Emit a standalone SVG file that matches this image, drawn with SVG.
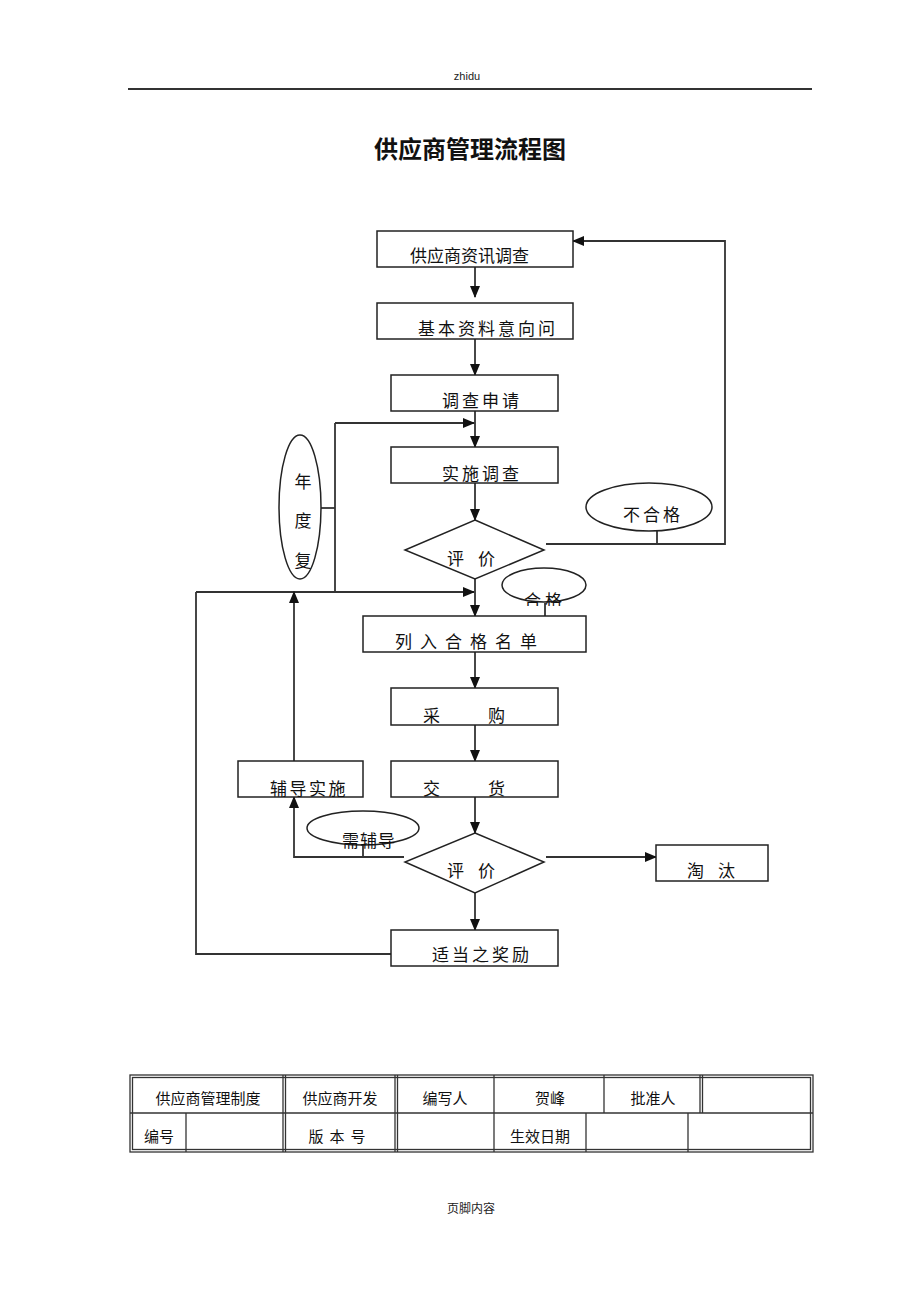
<svg xmlns="http://www.w3.org/2000/svg" width="920" height="1302" viewBox="0 0 920 1302">
<style>
.box{fill:#fff;stroke:#222;stroke-width:1.5}
.ell{fill:#fff;stroke:#222;stroke-width:1.5}
.ln{fill:none;stroke:#333;stroke-width:1.8}
.t{font-family:"Noto Sans CJK SC","Noto Sans",sans-serif;font-size:17px;fill:#111}
.tb{font-family:"Noto Sans CJK SC","Noto Sans",sans-serif;font-size:15px;fill:#111}
.cell{fill:none;stroke:#333;stroke-width:1.3}
</style>
<defs>
<marker id="ah" markerWidth="12" markerHeight="10" refX="11" refY="5" orient="auto" markerUnits="userSpaceOnUse">
<path d="M0,0 L12,5 L0,10 Z" fill="#111"/>
</marker>
<clipPath id="hegeclip"><rect x="500" y="580" width="90" height="26"/></clipPath>
</defs>
<rect width="920" height="1302" fill="#fff"/>
<g id="header">
<text x="467" y="80" text-anchor="middle" font-family="'Liberation Sans',sans-serif" font-size="11" fill="#222">zhidu</text>
<line x1="128" y1="89" x2="812" y2="89" stroke="#333" stroke-width="2"/>
<text x="470" y="158" text-anchor="middle" font-family="'Noto Sans CJK SC',sans-serif" font-size="24" font-weight="bold" fill="#111">供应商管理流程图</text>
</g>
<g id="connectors">
<line class="ln" x1="475" y1="267" x2="475" y2="297" marker-end="url(#ah)"/>
<line class="ln" x1="475" y1="339" x2="475" y2="375" marker-end="url(#ah)"/>
<line class="ln" x1="475" y1="411" x2="475" y2="447" marker-end="url(#ah)"/>
<line class="ln" x1="335" y1="423" x2="474" y2="423" marker-end="url(#ah)"/>
<line class="ln" x1="475" y1="483" x2="475" y2="520" marker-end="url(#ah)"/>
<polyline class="ln" points="546,544 725,544 725,241 573,241" marker-end="url(#ah)"/>
<line class="ln" x1="657" y1="531" x2="657" y2="544"/>
<line class="ln" x1="321" y1="508" x2="335" y2="508"/>
<line class="ln" x1="335" y1="423" x2="335" y2="592"/>
<line class="ln" x1="196" y1="592" x2="474" y2="592" marker-end="url(#ah)"/>
<line class="ln" x1="475" y1="579" x2="475" y2="616" marker-end="url(#ah)"/>
<line class="ln" x1="545" y1="603" x2="545" y2="616"/>
<line class="ln" x1="475" y1="652" x2="475" y2="688" marker-end="url(#ah)"/>
<line class="ln" x1="475" y1="725" x2="475" y2="761" marker-end="url(#ah)"/>
<line class="ln" x1="475" y1="797" x2="475" y2="833" marker-end="url(#ah)"/>
<line class="ln" x1="294" y1="761" x2="294" y2="592" marker-end="url(#ah)"/>
<polyline class="ln" points="404,857 294,857 294,797" marker-end="url(#ah)"/>
<line class="ln" x1="363" y1="845" x2="363" y2="857"/>
<line class="ln" x1="546" y1="857" x2="656" y2="857" marker-end="url(#ah)"/>
<line class="ln" x1="475" y1="893" x2="475" y2="930" marker-end="url(#ah)"/>
<polyline class="ln" points="391,954 196,954 196,592"/>
</g>
<g id="n1"><rect class="box" x="377" y="231" width="196" height="36"/><text class="t" x="410" y="262" font-size="18">供应商资讯调查</text></g>
<g id="n2"><rect class="box" x="377" y="303" width="196" height="36"/><text class="t" x="418" y="335" letter-spacing="3">基本资料意向问</text></g>
<g id="n3"><rect class="box" x="391" y="375" width="167" height="36"/><text class="t" x="442" y="407" letter-spacing="3">调查申请</text></g>
<g id="n4"><rect class="box" x="391" y="447" width="167" height="36"/><text class="t" x="442" y="480" letter-spacing="3">实施调查</text></g>
<g id="d1"><polygon class="box" points="475,520 544,550 475,579 405,550"/><text class="t" x="447" y="565">评</text><text class="t" x="478" y="565">价</text></g>
<g id="e_buhege"><ellipse class="ell" cx="649" cy="507" rx="63" ry="24"/><text class="t" x="623" y="521" letter-spacing="3">不合格</text></g>
<g id="e_niandu"><ellipse class="ell" cx="300" cy="507" rx="21" ry="72"/><text class="t" x="303" y="488" text-anchor="middle">年</text><text class="t" x="303" y="527" text-anchor="middle">度</text><text class="t" x="303" y="567" text-anchor="middle">复</text></g>
<g id="e_hege"><ellipse class="ell" cx="544" cy="585" rx="42" ry="17"/><text class="t" x="524" y="607" font-size="16" letter-spacing="4" clip-path="url(#hegeclip)">合格</text></g>
<g id="n5"><rect class="box" x="363" y="616" width="223" height="36"/><text class="t" x="395" y="648" letter-spacing="8">列入合格名单</text></g>
<g id="n6"><rect class="box" x="391" y="688" width="167" height="37"/><text class="t" x="423" y="722">采</text><text class="t" x="488" y="722">购</text></g>
<g id="n7"><rect class="box" x="391" y="761" width="167" height="36"/><text class="t" x="423" y="795">交</text><text class="t" x="488" y="795">货</text></g>
<g id="n8"><rect class="box" x="238" y="761" width="125" height="36"/><text class="t" x="270" y="795" letter-spacing="2.5">辅导实施</text></g>
<g id="e_xufudao"><ellipse class="ell" cx="363" cy="828" rx="56" ry="17"/><text class="t" x="342" y="847" font-size="16" letter-spacing="1">需辅导</text></g>
<g id="d2"><polygon class="box" points="475,833 544,862 475,893 405,862"/><text class="t" x="447" y="877">评</text><text class="t" x="478" y="877">价</text></g>
<g id="n9"><rect class="box" x="656" y="845" width="112" height="36"/><text class="t" x="687" y="877">淘</text><text class="t" x="718" y="877">汰</text></g>
<g id="n10"><rect class="box" x="391" y="930" width="167" height="36"/><text class="t" x="432" y="961" letter-spacing="3">适当之奖励</text></g>
<g id="table">
<rect class="cell" x="130" y="1075" width="683" height="77"/>
<rect class="cell" x="132.5" y="1077.5" width="678" height="72"/>
<line class="cell" x1="130" y1="1113" x2="813" y2="1113"/>
<line class="cell" x1="283" y1="1075" x2="283" y2="1113"/>
<line class="cell" x1="285.5" y1="1075" x2="285.5" y2="1113"/>
<line class="cell" x1="395" y1="1075" x2="395" y2="1113"/>
<line class="cell" x1="397.5" y1="1075" x2="397.5" y2="1113"/>
<line class="cell" x1="494" y1="1075" x2="494" y2="1113"/>
<line class="cell" x1="604" y1="1075" x2="604" y2="1113"/>
<line class="cell" x1="700" y1="1075" x2="700" y2="1113"/>
<line class="cell" x1="702.5" y1="1075" x2="702.5" y2="1113"/>
<line class="cell" x1="186" y1="1113" x2="186" y2="1152"/>
<line class="cell" x1="283" y1="1113" x2="283" y2="1152"/>
<line class="cell" x1="285.5" y1="1113" x2="285.5" y2="1152"/>
<line class="cell" x1="395" y1="1113" x2="395" y2="1152"/>
<line class="cell" x1="397.5" y1="1113" x2="397.5" y2="1152"/>
<line class="cell" x1="494" y1="1113" x2="494" y2="1152"/>
<line class="cell" x1="586" y1="1113" x2="586" y2="1152"/>
<line class="cell" x1="688" y1="1113" x2="688" y2="1152"/>
<text class="tb" x="208" y="1104" text-anchor="middle">供应商管理制度</text>
<text class="tb" x="340" y="1104" text-anchor="middle">供应商开发</text>
<text class="tb" x="445" y="1104" text-anchor="middle">编写人</text>
<text class="tb" x="550" y="1104" text-anchor="middle">贺峰</text>
<text class="tb" x="653" y="1104" text-anchor="middle">批准人</text>
<text class="tb" x="159" y="1142" text-anchor="middle">编号</text>
<text class="tb" x="340" y="1142" text-anchor="middle" letter-spacing="6">版本号</text>
<text class="tb" x="540" y="1142" text-anchor="middle">生效日期</text>
</g>
<g id="footer"><text x="471" y="1213" text-anchor="middle" font-family="'Noto Sans CJK SC',sans-serif" font-size="12" fill="#222">页脚内容</text></g>
</svg>
